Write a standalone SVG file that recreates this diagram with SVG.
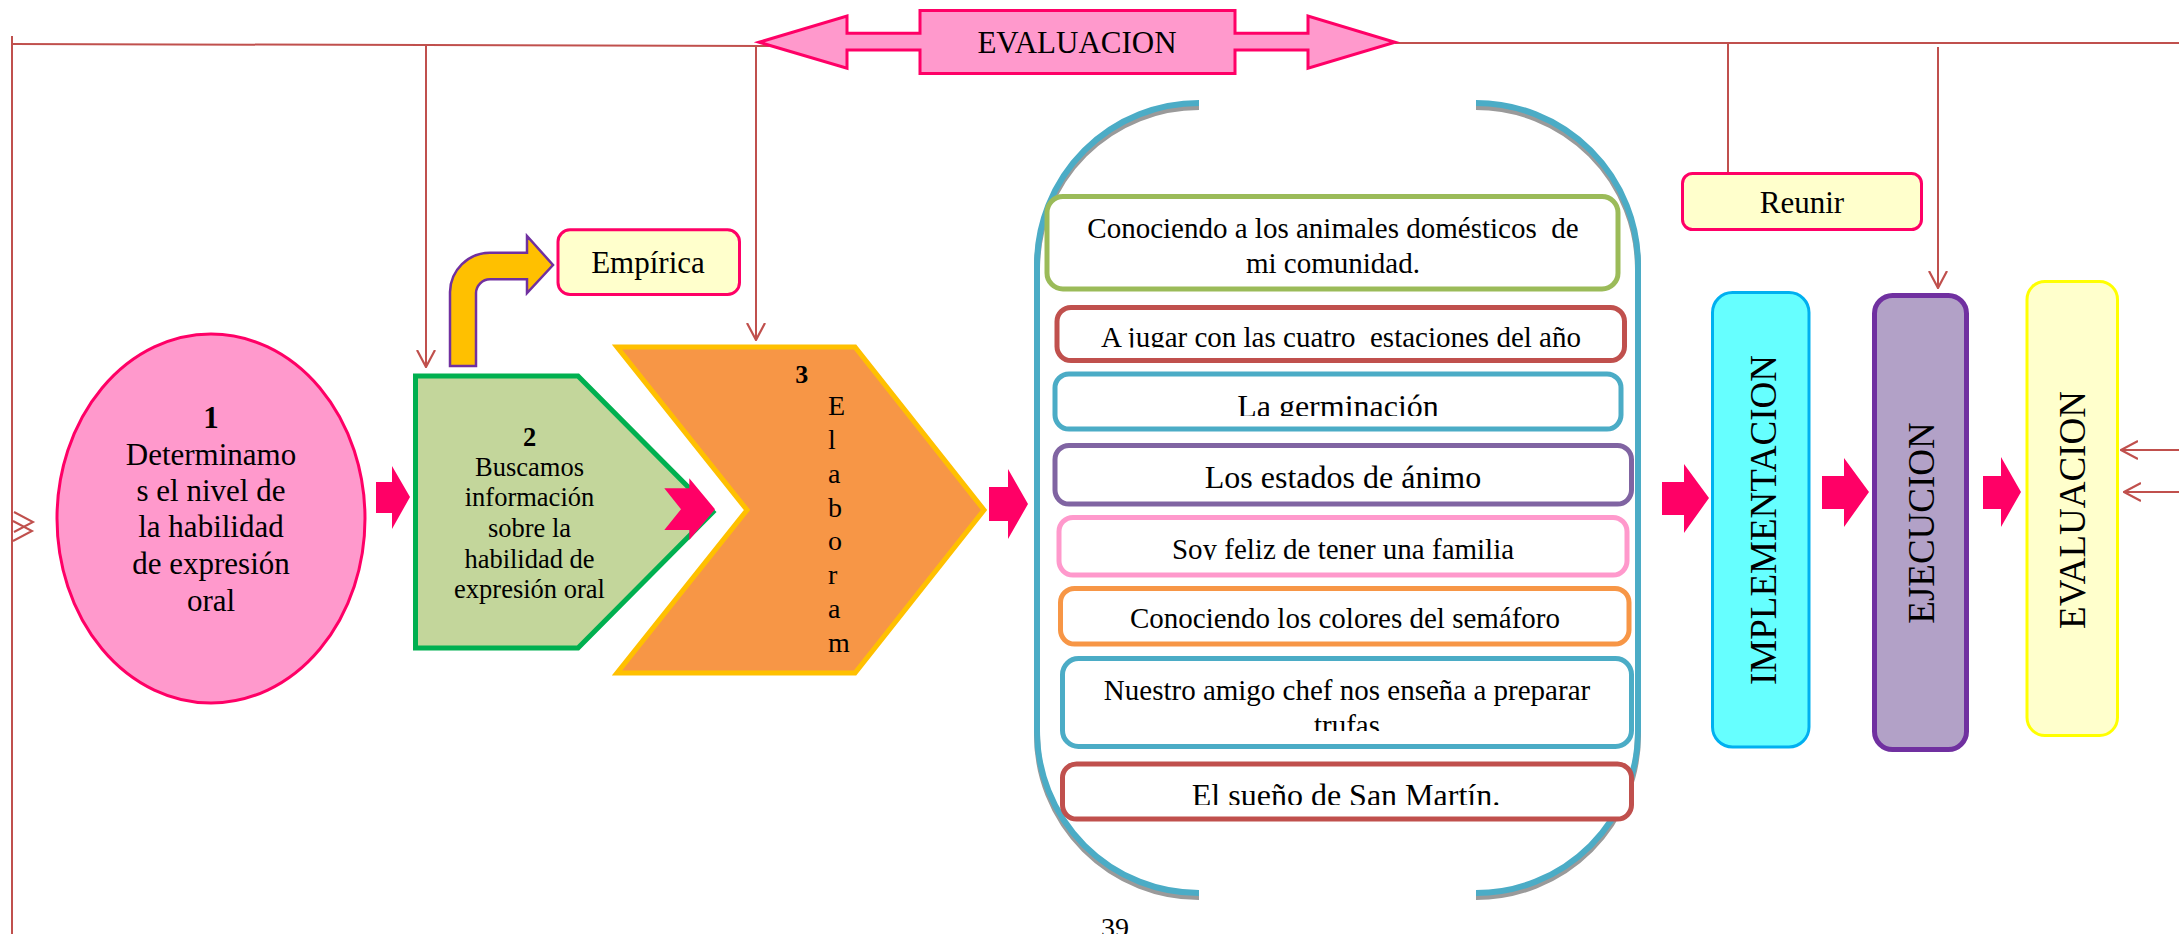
<svg xmlns="http://www.w3.org/2000/svg" width="2179" height="934" viewBox="0 0 2179 934">
<style>
text{font-family:"Liberation Serif","Times New Roman",serif;fill:#000}
.conn{fill:none;stroke:#C0504D;stroke-width:2}
.blk{fill:#FF0066;stroke:none}
.box{fill:#fff;stroke-width:5}
.bt{font-size:29px;text-anchor:middle}
.bt32{font-size:32px;text-anchor:middle}
.c31{font-size:31px;text-anchor:middle}
.g26{font-size:26.5px;text-anchor:middle}
.el{font-size:28px}
.vt{font-size:37px;text-anchor:middle}
.brk{fill:none;stroke-width:6}
</style>
<defs>
<marker id="ah" viewBox="0 0 18 20" markerWidth="18" markerHeight="20" refX="17" refY="10" orient="auto" markerUnits="userSpaceOnUse">
<path d="M0,1 L17,10 L0,19" fill="none" stroke="#C0504D" stroke-width="2.2"/>
</marker>
<clipPath id="cA"><rect x="1060" y="300" width="570" height="47.5"/></clipPath>
<clipPath id="cG"><rect x="1060" y="370" width="570" height="46"/></clipPath>
<clipPath id="cS"><rect x="1060" y="515" width="570" height="45"/></clipPath>
<clipPath id="cT"><rect x="1060" y="660" width="570" height="71"/></clipPath>
<clipPath id="cM"><rect x="1060" y="762" width="570" height="43"/></clipPath>
</defs>

<g id="connectors">
<path class="conn" d="M12,36 L12,934"/>
<path class="conn" d="M14,512 L33,522 L14,532 M13,521 L32,531 L13,541"/>
<path class="conn" d="M12,44 L789,46"/>
<path class="conn" d="M1395,43 L2179,43"/>
<path class="conn" d="M426,45 L426,367" marker-end="url(#ah)"/>
<path class="conn" d="M756,45 L756,340" marker-end="url(#ah)"/>
<path class="conn" d="M1728,43 L1728,172"/>
<path class="conn" d="M1938,47 L1938,288" marker-end="url(#ah)"/>
<path class="conn" d="M2179,450 L2121,450" marker-end="url(#ah)"/>
<path class="conn" d="M2179,492 L2124,492" marker-end="url(#ah)"/>
</g>

<g id="evaluacion-top">
<polygon points="759,42.3 847,16 847,33.3 920,33.3 920,10.5 1235,10.5 1235,33.3 1308,33.3 1308,16 1395,42.3 1308,68.3 1308,50 1235,50 1235,73.5 920,73.5 920,50 847,50 847,68.3" fill="#FF99CC" stroke="#FF0066" stroke-width="3"/>
<text class="c31" x="1077" y="53">EVALUACION</text>
</g>

<g id="node1">
<ellipse cx="211" cy="518.5" rx="154" ry="184.5" fill="#FF99CC" stroke="#FF0066" stroke-width="3"/>
<text class="c31" x="211" y="427.7" font-weight="bold">1</text>
<text class="c31" x="211" y="465">Determinamo</text>
<text class="c31" x="211" y="501">s el nivel de</text>
<text class="c31" x="211" y="537">la habilidad</text>
<text class="c31" x="211" y="574">de expresión</text>
<text class="c31" x="211" y="611">oral</text>
</g>

<g id="arrow1"><polygon class="blk" points="376,482 392,482 392,466 410,497 392,529 392,513 376,513"/></g>

<g id="bent-arrow">
<path d="M450,366 L450,292 A40,40 0 0 1 490,252.7 L527,252.7 L527,236 L553,265 L527,293 L527,279.3 L490,279.3 A14,14 0 0 0 476,293 L476,366 Z" fill="#FFC000" stroke="#7030A0" stroke-width="2.5"/>
</g>

<g id="empirica">
<rect x="558" y="229.8" width="181.5" height="64.7" rx="12" fill="#FFFFCC" stroke="#FF0066" stroke-width="3"/>
<text class="c31" x="648" y="273.3">Empírica</text>
</g>

<g id="node2">
<polygon points="415.5,376 578,376 713,512 578,648 415.5,648" fill="#C3D69B" stroke="#00B050" stroke-width="5"/>
<text class="g26" x="529.5" y="446" font-weight="bold">2</text>
<text class="g26" x="529.5" y="476">Buscamos</text>
<text class="g26" x="529.5" y="506">información</text>
<text class="g26" x="529.5" y="537">sobre la</text>
<text class="g26" x="529.5" y="568">habilidad de</text>
<text class="g26" x="529.5" y="598">expresión oral</text>
</g>

<g id="arrow2"><polygon class="blk" points="664.3,488.3 689.3,488.3 689.3,478.3 715,509.3 689.3,540 689.3,530 664.3,530 681,509.3"/></g>

<g id="node3">
<polygon points="617,347 855,347 984,510 855,673 617,673 747,510" fill="#F79646" stroke="#FFC000" stroke-width="5"/>
<text x="801.7" y="383" font-size="26" font-weight="bold" text-anchor="middle">3</text>
<text class="el" x="828" y="415">E</text>
<text class="el" x="828" y="449">l</text>
<text class="el" x="828" y="483">a</text>
<text class="el" x="828" y="517">b</text>
<text class="el" x="828" y="550">o</text>
<text class="el" x="828" y="584">r</text>
<text class="el" x="828" y="618">a</text>
<text class="el" x="828" y="652">m</text>
</g>

<g id="arrow3"><polygon class="blk" points="989,487 1008,487 1008,469 1028,504 1008,539 1008,521 989,521"/></g>

<g id="bracket">
<path class="brk" stroke="#9A9A9A" d="M1199,107 A162,162 0 0 0 1037,269 L1037,735 A162,162 0 0 0 1199,897 M1476,107 A162,162 0 0 1 1638,269 L1638,735 A162,162 0 0 1 1476,897"/>
<path class="brk" stroke="#4BACC6" d="M1199,103 A162,162 0 0 0 1037,265 L1037,731 A162,162 0 0 0 1199,893 M1476,103 A162,162 0 0 1 1638,265 L1638,731 A162,162 0 0 1 1476,893"/>
</g>

<g id="act1">
<rect class="box" x="1047" y="196.5" width="571" height="92.5" rx="16" stroke="#9BBB59"/>
<text class="bt" x="1333" y="238" xml:space="preserve">Conociendo a los animales domésticos  de</text>
<text class="bt" x="1333" y="272.7">mi comunidad.</text>
</g>
<g id="act2">
<rect class="box" x="1057" y="307.5" width="567.5" height="53" rx="14" stroke="#C0504D"/>
<text class="bt" x="1341" y="347" clip-path="url(#cA)" xml:space="preserve">A jugar con las cuatro  estaciones del año</text>
</g>
<g id="act3">
<rect class="box" x="1055" y="374" width="566" height="55" rx="14" stroke="#4BACC6"/>
<text class="bt32" x="1338" y="417" clip-path="url(#cG)">La germinación</text>
</g>
<g id="act4">
<rect class="box" x="1055" y="445.5" width="576.5" height="58.5" rx="14" stroke="#8064A2"/>
<text class="bt32" x="1343" y="488.3">Los estados de ánimo</text>
</g>
<g id="act5">
<rect class="box" x="1059" y="517.5" width="568" height="57.5" rx="14" stroke="#FF99CC"/>
<text class="bt" x="1343" y="558.5" clip-path="url(#cS)">Soy feliz de tener una familia</text>
</g>
<g id="act6">
<rect class="box" x="1060.5" y="588.5" width="568.5" height="55.5" rx="14" stroke="#F79646"/>
<text class="bt" x="1345" y="628.3">Conociendo los colores del semáforo</text>
</g>
<g id="act7">
<rect class="box" x="1062.5" y="658.5" width="569" height="88" rx="16" stroke="#4BACC6"/>
<text class="bt" x="1347" y="700">Nuestro amigo chef nos enseña a preparar</text>
<text class="bt" x="1347" y="734.7" clip-path="url(#cT)">trufas</text>
</g>
<g id="act8">
<rect class="box" x="1062.5" y="764" width="569" height="55" rx="14" stroke="#C0504D"/>
<text class="bt32" x="1346" y="806" clip-path="url(#cM)">El sueño de San Martín.</text>
</g>

<g id="reunir">
<rect x="1682.5" y="173.5" width="239" height="56" rx="10" fill="#FFFFCC" stroke="#FF0066" stroke-width="3"/>
<text class="c31" x="1802" y="213">Reunir</text>
</g>

<g id="arrow4"><polygon class="blk" points="1662,482 1684,482 1684,464 1709,498 1684,533 1684,515 1662,515"/></g>
<g id="implementacion">
<rect x="1712.5" y="292.5" width="96.5" height="454.5" rx="20" fill="#66FFFF" stroke="#00B0F0" stroke-width="3"/>
<text class="vt" transform="translate(1763,520) rotate(-90)" x="0" y="12.5">IMPLEMENTACION</text>
</g>
<g id="arrow5"><polygon class="blk" points="1822,476 1844,476 1844,458 1869,492 1844,527 1844,509 1822,509"/></g>
<g id="ejecucion">
<rect x="1874.5" y="295.5" width="92" height="454" rx="18" fill="#B2A1C7" stroke="#7030A0" stroke-width="5"/>
<text class="vt" transform="translate(1921.6,523) rotate(-90)" x="0" y="12.5">EJECUCION</text>
</g>
<g id="arrow6"><polygon class="blk" points="1983,476 2001,476 2001,457 2021,492 2001,527 2001,509 1983,509"/></g>
<g id="evaluacion">
<rect x="2027" y="281.5" width="90.5" height="454" rx="18" fill="#FFFFCC" stroke="#FFFF00" stroke-width="3"/>
<text class="vt" transform="translate(2072.7,510) rotate(-90)" x="0" y="12.5">EVALUACION</text>
</g>

<g id="page-number">
<text x="1101" y="937" font-size="28">39</text>
</g>
</svg>
